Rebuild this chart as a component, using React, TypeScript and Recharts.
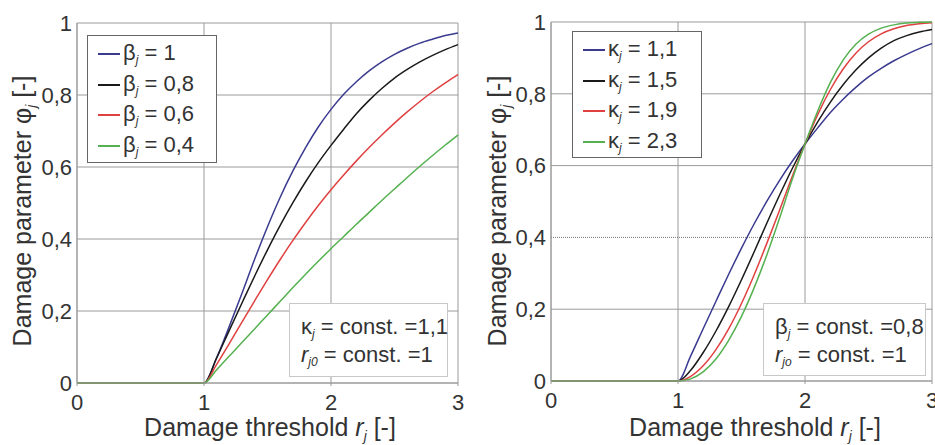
import React from 'react'
import { LineChart, Line, XAxis, YAxis, CartesianGrid, ReferenceLine } from 'recharts'

// Damage threshold r_j (x)
const R = [0, 1, 1.1, 1.2, 1.3, 1.4, 1.5, 1.6, 1.7, 1.8, 1.9, 2, 2.1, 2.2, 2.3, 2.4, 2.5, 2.6, 2.7, 2.8, 2.9, 3]

// left panel: kappa = 1,1, beta varies
const BETA_1 = [0, 0, 0.07, 0.158, 0.25, 0.345, 0.434, 0.516, 0.589, 0.654, 0.711, 0.76, 0.802, 0.837, 0.867, 0.892, 0.913, 0.93, 0.944, 0.955, 0.965, 0.972]
const BETA_08 = [0, 0, 0.07, 0.147, 0.223, 0.298, 0.37, 0.438, 0.501, 0.559, 0.612, 0.66, 0.705, 0.748, 0.785, 0.818, 0.847, 0.871, 0.892, 0.91, 0.926, 0.94]
const BETA_06 = [0, 0, 0.052, 0.11, 0.17, 0.229, 0.287, 0.343, 0.396, 0.446, 0.493, 0.537, 0.578, 0.617, 0.654, 0.689, 0.722, 0.753, 0.782, 0.809, 0.834, 0.857]
const BETA_04 = [0, 0, 0.037, 0.075, 0.113, 0.151, 0.189, 0.227, 0.265, 0.302, 0.338, 0.373, 0.407, 0.441, 0.474, 0.507, 0.539, 0.571, 0.602, 0.632, 0.661, 0.689]

// right panel: beta = 0,8, kappa varies
const KAPPA_11 = [0, 0, 0.07, 0.147, 0.223, 0.298, 0.37, 0.438, 0.501, 0.559, 0.612, 0.66, 0.705, 0.748, 0.785, 0.818, 0.847, 0.871, 0.892, 0.91, 0.926, 0.94]
const KAPPA_15 = [0, 0, 0.03, 0.08, 0.14, 0.208, 0.282, 0.36, 0.44, 0.518, 0.592, 0.66, 0.722, 0.777, 0.825, 0.866, 0.9, 0.927, 0.948, 0.962, 0.972, 0.979]
const KAPPA_19 = [0, 0, 0.013, 0.043, 0.088, 0.146, 0.216, 0.296, 0.384, 0.476, 0.57, 0.66, 0.742, 0.812, 0.869, 0.913, 0.945, 0.967, 0.981, 0.99, 0.995, 0.998]
const KAPPA_23 = [0, 0, 0.006, 0.026, 0.062, 0.114, 0.18, 0.26, 0.352, 0.454, 0.562, 0.66, 0.752, 0.832, 0.894, 0.938, 0.966, 0.983, 0.992, 0.997, 0.999, 1]

const X_TICKS = [0, 1, 2, 3]
const Y_TICKS = [0, 0.2, 0.4, 0.6, 0.8, 1]

const COLORS = ['#3a3a90', '#1a1a1a', '#e04040', '#55b050']
const GRID = '#9a9a9a'
const FONT = '"Liberation Sans", Arial, sans-serif'
const TEXT = '#333'

const leftRows = R.map((r, i) => ({ r, s0: BETA_1[i], s1: BETA_08[i], s2: BETA_06[i], s3: BETA_04[i] }))
const rightRows = R.map((r, i) => ({ r, s0: KAPPA_11[i], s1: KAPPA_15[i], s2: KAPPA_19[i], s3: KAPPA_23[i] }))

const fmt = (v: number) => String(v).replace('.', ',')

interface PanelProps {
  rows: typeof leftRows
  left: number
  width: number
  yAxisWidth: number
  margin: { top: number; right: number; bottom: number; left: number }
  dottedAt?: number
}

function Panel({ rows, left, width, yAxisWidth, margin, dottedAt }: PanelProps) {
  const solid = Y_TICKS.filter((v) => v !== dottedAt)
  return (
    <div style={{ position: 'absolute', left, top: 0 }}>
      <LineChart width={width} height={445} data={rows} margin={margin}>
        <CartesianGrid stroke={GRID} horizontalValues={solid} verticalValues={X_TICKS} />
        {dottedAt !== undefined && (
          <ReferenceLine y={dottedAt} stroke="#777" strokeDasharray="1 1" />
        )}
        <XAxis
          type="number"
          dataKey="r"
          domain={[0, 3]}
          ticks={X_TICKS}
          interval={0}
          height={30}
          tickLine={{ stroke: GRID }}
          axisLine={{ stroke: GRID }}
          tickSize={3}
          tickMargin={8}
          tick={{ fontSize: 22, fill: TEXT, fontFamily: FONT }}
        />
        <YAxis
          type="number"
          domain={[0, 1]}
          ticks={Y_TICKS}
          interval={0}
          width={yAxisWidth}
          tickLine={false}
          axisLine={{ stroke: GRID }}
          tickSize={3}
          tickMargin={2}
          tickFormatter={fmt}
          tick={{ fontSize: 22, fill: TEXT, fontFamily: FONT }}
        />
        {['s0', 's1', 's2', 's3'].map((k, i) => (
          <Line
            key={k}
            type="monotone"
            dataKey={k}
            stroke={COLORS[i]}
            strokeWidth={1.5}
            dot={false}
            isAnimationActive={false}
          />
        ))}
      </LineChart>
    </div>
  )
}

const Sub = ({ children }: { children: React.ReactNode }) => (
  <sub style={{ fontSize: '0.55em', fontStyle: 'italic', verticalAlign: '-0.35em' }}>{children}</sub>
)

function LegendBox({ x, y, w, h, labels }: { x: number; y: number; w: number; h: number; labels: React.ReactNode[] }) {
  return (
    <div
      style={{
        position: 'absolute', left: x, top: y, width: w, height: h, boxSizing: 'border-box',
        border: '1px solid #666', background: '#fff', padding: '3px 0 0 10px',
      }}
    >
      {labels.map((lab, i) => (
        <div key={i} style={{ display: 'flex', alignItems: 'center', height: 30.5 }}>
          <span style={{ width: 22, height: 2, background: COLORS[i], marginRight: 3 }} />
          <span style={{ fontSize: 22, color: TEXT, lineHeight: 1 }}>{lab}</span>
        </div>
      ))}
    </div>
  )
}

function NoteBox({ x, y, w, h, lines }: { x: number; y: number; w: number; h: number; lines: React.ReactNode[] }) {
  return (
    <div
      style={{
        position: 'absolute', left: x, top: y, width: w, height: h, boxSizing: 'border-box',
        border: '1px solid #c8c8c8', background: '#fff', padding: '9px 0 0 11px',
      }}
    >
      {lines.map((l, i) => (
        <div key={i} style={{ fontSize: 22, color: TEXT, lineHeight: '28px', height: 28, whiteSpace: 'nowrap' }}>{l}</div>
      ))}
    </div>
  )
}

const XTitle = ({ cx }: { cx: number }) => (
  <div style={{ position: 'absolute', left: cx - 160, top: 413, width: 320, textAlign: 'center', fontSize: 25, color: TEXT, whiteSpace: 'nowrap' }}>
    Damage threshold <i>r</i><Sub>j</Sub> [-]
  </div>
)

const YTitle = ({ cx }: { cx: number }) => (
  <div
    style={{
      position: 'absolute', left: cx - 160, top: 211 - 15, width: 320, height: 30, lineHeight: '30px',
      textAlign: 'center', fontSize: 25, color: TEXT, whiteSpace: 'nowrap', transform: 'rotate(-90deg)',
    }}
  >
    Damage parameter φ<Sub>j</Sub> [-]
  </div>
)

export default function App() {
  return (
    <div style={{ position: 'absolute', left: 0, top: 0, width: 935, height: 445, background: '#fff', overflow: 'hidden', fontFamily: FONT }}>
      <Panel rows={leftRows} left={0} width={470} yAxisWidth={77} margin={{ top: 23, right: 12, bottom: 32, left: 0 }} />
      <Panel rows={rightRows} left={470} width={465} yAxisWidth={81} margin={{ top: 22, right: 3, bottom: 34, left: 0 }} dottedAt={0.4} />

      <YTitle cx={22} />
      <YTitle cx={497} />
      <XTitle cx={270} />
      <XTitle cx={755} />

      <LegendBox
        x={87} y={35} w={130} h={128}
        labels={[
          <>β<Sub>j</Sub> = 1</>,
          <>β<Sub>j</Sub> = 0,8</>,
          <>β<Sub>j</Sub> = 0,6</>,
          <>β<Sub>j</Sub> = 0,4</>,
        ]}
      />
      <LegendBox
        x={572} y={31} w={130} h={127}
        labels={[
          <>κ<Sub>j</Sub> = 1,1</>,
          <>κ<Sub>j</Sub> = 1,5</>,
          <>κ<Sub>j</Sub> = 1,9</>,
          <>κ<Sub>j</Sub> = 2,3</>,
        ]}
      />

      <NoteBox
        x={289} y={303} w={159} h={74}
        lines={[
          <>κ<Sub>j</Sub> = const. =1,1</>,
          <><i>r</i><Sub>j0</Sub> = const. =1</>,
        ]}
      />
      <NoteBox
        x={763} y={303} w={163} h={73}
        lines={[
          <>β<Sub>j</Sub> = const. =0,8</>,
          <><i>r</i><Sub>jo</Sub> = const. =1</>,
        ]}
      />
    </div>
  )
}
